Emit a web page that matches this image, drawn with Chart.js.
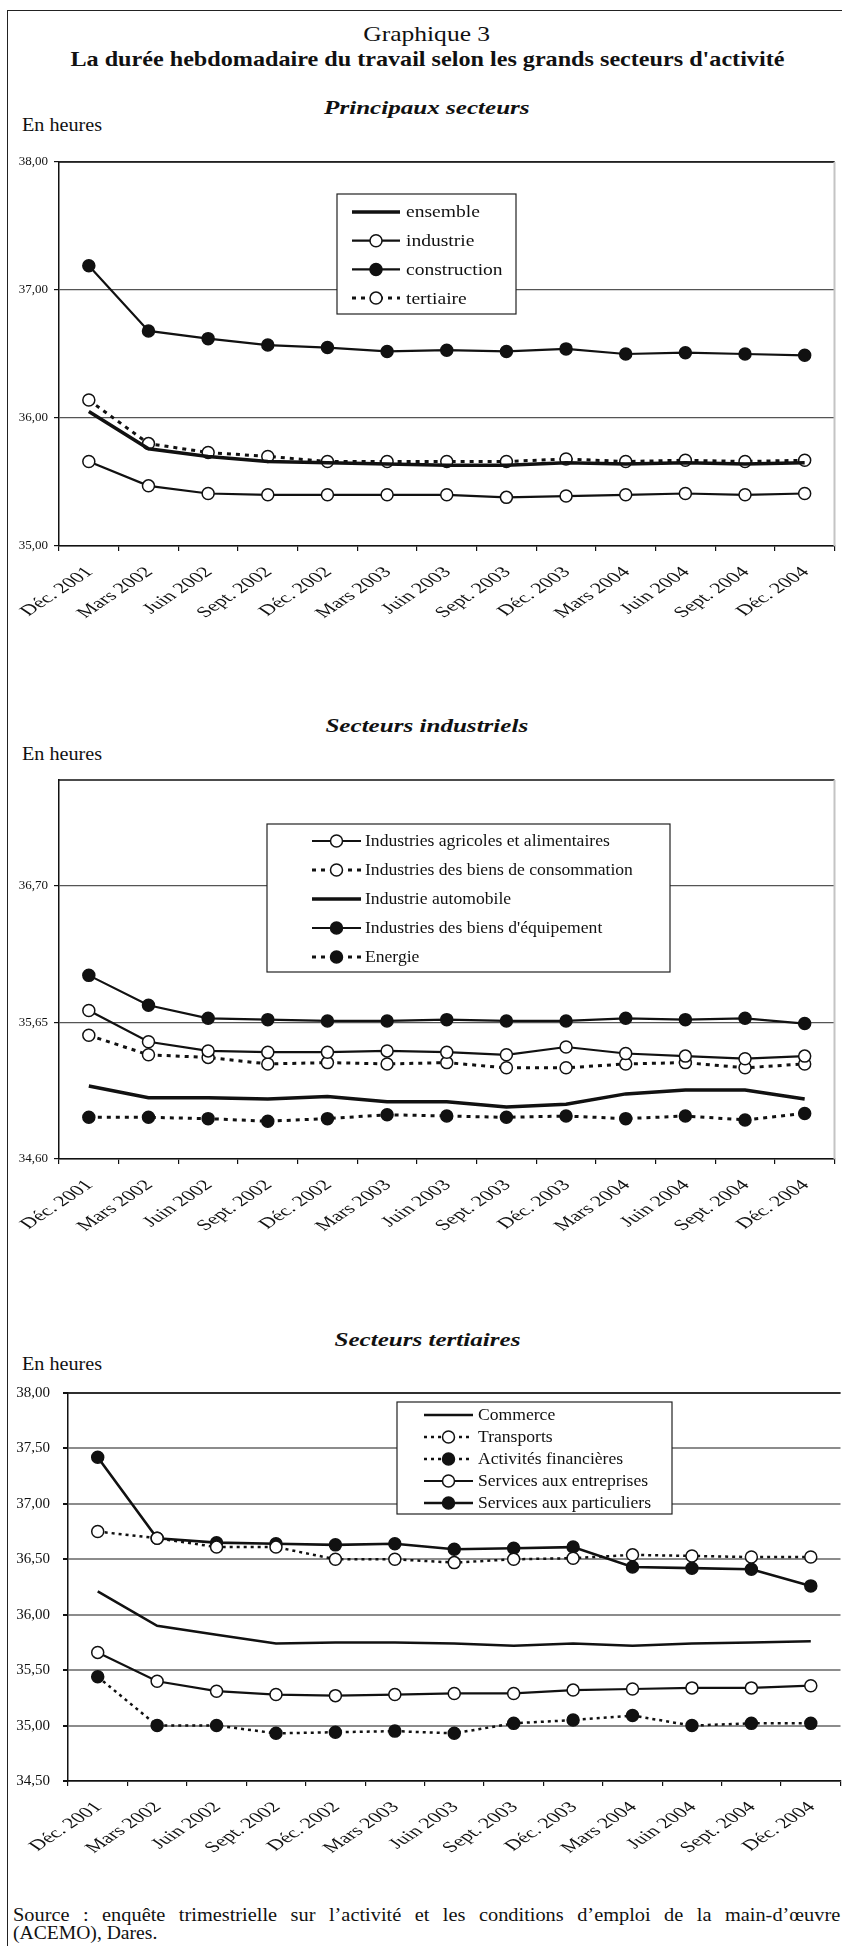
<!DOCTYPE html>
<html lang="fr">
<head>
<meta charset="utf-8">
<title>Graphique 3</title>
<script src="https://cdn.jsdelivr.net/npm/chart.js@4.4.1/dist/chart.umd.min.js"></script>
<style>
  html, body { margin: 0; padding: 0; background: #fff; }
  body {
    width: 842px; height: 1946px; position: relative; overflow: hidden;
    font-family: "Liberation Serif", "Times New Roman", serif; color: #111;
  }
  .frame { position: absolute; left: 7px; top: 10px; width: 850px; height: 1950px;
    border-left: 1.5px solid #222; border-top: 1.5px solid #222; }
  .txt { position: absolute; white-space: nowrap; line-height: 1; }
  .c { left: 0; width: 854px; text-align: center; }
  .txt span { display: inline-block; }
  .left span { transform-origin: left center; }
  .source { position: absolute; left: 13px; width: 752px; font-size: 18.5px; line-height: 18px;
    text-align: justify; text-align-last: justify; white-space: nowrap;
    transform: scaleX(1.1); transform-origin: left center; }
  canvas { position: absolute; left: 0; }
</style>
</head>
<body>
<div class="frame"></div>

<div class="txt c" style="top:23px;font-size:22px"><span style="transform:scaleX(1.16)">Graphique 3</span></div>
<div class="txt c" style="top:49px;font-size:21px;font-weight:bold"><span style="transform:scaleX(1.15)">La durée hebdomadaire du travail selon les grands secteurs d'activité</span></div>

<div class="txt c" style="top:98px;font-size:19px;font-weight:bold;font-style:italic"><span style="transform:scaleX(1.32)">Principaux secteurs</span></div>
<div class="txt left" style="left:22px;top:116px;font-size:18px"><span style="transform:scaleX(1.12)">En heures</span></div>
<canvas id="chartPrincipaux" width="842" height="520" style="top:140px"></canvas>

<div class="txt c" style="top:716px;font-size:19px;font-weight:bold;font-style:italic"><span style="transform:scaleX(1.32)">Secteurs industriels</span></div>
<div class="txt left" style="left:22px;top:745px;font-size:18px"><span style="transform:scaleX(1.12)">En heures</span></div>
<canvas id="chartIndustriels" width="842" height="515" style="top:765px"></canvas>

<div class="txt c" style="top:1330px;font-size:19px;font-weight:bold;font-style:italic"><span style="transform:scaleX(1.32)">Secteurs tertiaires</span></div>
<div class="txt left" style="left:22px;top:1355px;font-size:18px"><span style="transform:scaleX(1.12)">En heures</span></div>
<canvas id="chartTertiaires" width="848" height="520" style="top:1380px"></canvas>

<div class="source" style="top:1906px">Source : enquête trimestrielle sur l’activité et les conditions d’emploi de la main-d’œuvre</div>
<div class="txt left" style="left:13px;top:1924px;font-size:18.5px"><span style="transform:scaleX(1.06)">(ACEMO), Dares.</span></div>

<script>
// Trimestres
const periodes = ["Déc. 2001", "Mars 2002", "Juin 2002", "Sept. 2002", "Déc. 2002", "Mars 2003",
  "Juin 2003", "Sept. 2003", "Déc. 2003", "Mars 2004", "Juin 2004", "Sept. 2004", "Déc. 2004"];

// Principaux secteurs
const ensemble     = [36.05, 35.76, 35.70, 35.66, 35.65, 35.64, 35.63, 35.63, 35.65, 35.64, 35.65, 35.64, 35.65];
const industrie    = [35.66, 35.47, 35.41, 35.40, 35.40, 35.40, 35.40, 35.38, 35.39, 35.40, 35.41, 35.40, 35.41];
const construction = [37.19, 36.68, 36.62, 36.57, 36.55, 36.52, 36.53, 36.52, 36.54, 36.50, 36.51, 36.50, 36.49];
const tertiaire    = [36.14, 35.80, 35.73, 35.70, 35.66, 35.66, 35.66, 35.66, 35.68, 35.66, 35.67, 35.66, 35.67];
const ticksPrincipaux = [35, 36, 37, 38];

// Secteurs industriels
const agroAlimentaire = [35.74, 35.50, 35.43, 35.42, 35.42, 35.43, 35.42, 35.40, 35.46, 35.41, 35.39, 35.37, 35.39];
const biensConso      = [35.55, 35.40, 35.38, 35.33, 35.34, 35.33, 35.34, 35.30, 35.30, 35.33, 35.34, 35.30, 35.33];
const automobile      = [35.16, 35.07, 35.07, 35.06, 35.08, 35.04, 35.04, 35.00, 35.02, 35.10, 35.13, 35.13, 35.06];
const biensEquipement = [36.01, 35.78, 35.68, 35.67, 35.66, 35.66, 35.67, 35.66, 35.66, 35.68, 35.67, 35.68, 35.64];
const energie         = [34.92, 34.92, 34.91, 34.89, 34.91, 34.94, 34.93, 34.92, 34.93, 34.91, 34.93, 34.90, 34.95];
const ticksIndustriels = [34.60, 35.65, 36.70];

// Secteurs tertiaires
const commerce         = [36.21, 35.90, 35.82, 35.74, 35.75, 35.75, 35.74, 35.72, 35.74, 35.72, 35.74, 35.75, 35.76];
const transports       = [36.75, 36.69, 36.61, 36.61, 36.50, 36.50, 36.47, 36.50, 36.51, 36.54, 36.53, 36.52, 36.52];
const financieres      = [35.44, 35.00, 35.00, 34.93, 34.94, 34.95, 34.93, 35.02, 35.05, 35.09, 35.00, 35.02, 35.02];
const servEntreprises  = [35.66, 35.40, 35.31, 35.28, 35.27, 35.28, 35.29, 35.29, 35.32, 35.33, 35.34, 35.34, 35.36];
const servParticuliers = [37.42, 36.69, 36.65, 36.64, 36.63, 36.64, 36.59, 36.60, 36.61, 36.43, 36.42, 36.41, 36.26];
const ticksTertiaires = [34.5, 35, 35.5, 36, 36.5, 37, 37.5, 38];

const FONT = '"Liberation Serif", "Times New Roman", serif';
const INK = "#111";

function virgule(v) {
  return Number(v).toFixed(2).replace(".", ",");
}

// top line of the plot (and light right edge) like the Excel frame
const plotFrame = {
  id: "plotFrame",
  beforeDatasetsDraw(chart, args, opts) {
    const a = chart.chartArea;
    const ctx = chart.ctx;
    ctx.save();
    ctx.strokeStyle = INK;
    ctx.lineWidth = 1.5;
    ctx.beginPath();
    ctx.moveTo(a.left, a.top);
    ctx.lineTo(a.right, a.top);
    ctx.stroke();
    if (opts.rightLine) {
      ctx.strokeStyle = "#c4c4c4";
      ctx.lineWidth = 2;
      ctx.beginPath();
      ctx.moveTo(a.right, a.top);
      ctx.lineTo(a.right, a.bottom);
      ctx.stroke();
    }
    ctx.restore();
  }
};

// category labels, slanted and stretched like the source
const slantedLabels = {
  id: "slantedLabels",
  afterDraw(chart, args, opts) {
    const xScale = chart.scales.x;
    const ctx = chart.ctx;
    ctx.save();
    ctx.font = opts.size + "px " + FONT;
    ctx.fillStyle = INK;
    ctx.textAlign = "right";
    ctx.textBaseline = "middle";
    chart.data.labels.forEach(function (label, i) {
      ctx.save();
      ctx.translate(xScale.getPixelForValue(i) + opts.dx, chart.chartArea.bottom + opts.dy);
      ctx.scale(opts.stretch, 1);
      ctx.rotate(-Math.PI / 4);
      ctx.fillText(label, 0, 0);
      ctx.restore();
    });
    ctx.restore();
  }
};

// boxed legend sitting inside the plot
const boxLegend = {
  id: "boxLegend",
  afterDraw(chart, args, o) {
    const ctx = chart.ctx;
    ctx.save();
    ctx.fillStyle = "#fff";
    ctx.fillRect(o.x, o.y, o.w, o.h);
    ctx.strokeStyle = "#222";
    ctx.lineWidth = 1.2;
    ctx.strokeRect(o.x, o.y, o.w, o.h);
    chart.data.datasets.forEach(function (ds, i) {
      const y = o.firstRow + i * o.rowGap;
      ctx.save();
      ctx.strokeStyle = ds.borderColor;
      ctx.lineWidth = ds.borderWidth;
      ctx.setLineDash(ds.borderDash || []);
      ctx.beginPath();
      ctx.moveTo(o.sampleX, y);
      ctx.lineTo(o.sampleX + o.sampleW, y);
      ctx.stroke();
      ctx.setLineDash([]);
      if (ds.pointRadius > 0) {
        ctx.beginPath();
        ctx.arc(o.sampleX + o.sampleW / 2, y, ds.pointRadius, 0, 2 * Math.PI);
        ctx.fillStyle = ds.pointBackgroundColor;
        ctx.fill();
        ctx.lineWidth = ds.pointBorderWidth;
        ctx.strokeStyle = ds.pointBorderColor;
        ctx.stroke();
      }
      ctx.translate(o.textX, y);
      ctx.scale(o.stretch, 1);
      ctx.font = o.size + "px " + FONT;
      ctx.fillStyle = INK;
      ctx.textAlign = "left";
      ctx.textBaseline = "middle";
      ctx.fillText(ds.label, 0, 1);
      ctx.restore();
    });
    ctx.restore();
  }
};

const OPEN = { pointRadius: 6, pointBackgroundColor: "#fff" };
const FULL = { pointRadius: 6, pointBackgroundColor: INK };
const THICK = { borderWidth: 3.5 };
const DOTTED = { borderWidth: 3, borderDash: [4, 5] };

function serie(label, data, style) {
  return Object.assign({
    label: label,
    data: data,
    borderColor: INK,
    borderWidth: 2.2,
    borderDash: [],
    borderCapStyle: "butt",
    pointRadius: 0,
    pointBorderColor: INK,
    pointBorderWidth: 1.5,
    pointBackgroundColor: INK,
    tension: 0
  }, style || {});
}

function makeChart(canvasId, datasets, axis, box, legend) {
  return new Chart(document.getElementById(canvasId), {
    type: "line",
    data: { labels: periodes, datasets: datasets },
    plugins: [plotFrame, slantedLabels, boxLegend],
    options: {
      responsive: false,
      animation: false,
      events: [],
      layout: { padding: { top: box.top, right: box.right, left: 0, bottom: 0 } },
      plugins: {
        legend: { display: false },
        tooltip: { enabled: false },
        plotFrame: { rightLine: box.rightLine },
        slantedLabels: { size: 15, stretch: 1.5, dx: 1, dy: 24 },
        boxLegend: legend
      },
      scales: {
        x: {
          type: "category",
          offset: true,
          grid: { offset: true, drawOnChartArea: false, drawTicks: true, tickLength: 5, color: INK, lineWidth: 1.2 },
          border: { display: true, color: INK, width: 1.5 },
          ticks: { display: false },
          afterFit: function (scale) { scale.height = box.xHeight; }
        },
        y: {
          min: axis.min,
          max: axis.max,
          afterBuildTicks: function (scale) {
            scale.ticks = axis.ticks.map(function (v) { return { value: v }; });
          },
          ticks: {
            font: { family: FONT, size: axis.font },
            color: INK,
            padding: axis.pad,
            callback: function (value) { return virgule(value); }
          },
          grid: { color: axis.gridColor, lineWidth: axis.gridWidth, tickColor: INK, tickLength: 5 },
          border: { display: true, color: INK, width: 1.5 },
          afterFit: function (scale) {
            scale.width = box.yWidth;
            scale.paddingTop = 6;
            scale.paddingBottom = 6;
          }
        }
      }
    }
  });
}

makeChart("chartPrincipaux", [
  serie("ensemble", ensemble, THICK),
  serie("industrie", industrie, OPEN),
  serie("construction", construction, FULL),
  serie("tertiaire", tertiaire, Object.assign({}, DOTTED, OPEN))
], { min: 35, max: 38, ticks: ticksPrincipaux, font: 13, pad: 6, gridColor: "#555", gridWidth: 1.2 },
{ top: 22, right: 5, yWidth: 59, xHeight: 114, rightLine: true },
{ x: 337, y: 54, w: 179, h: 120, firstRow: 72, rowGap: 28.7, sampleX: 352, sampleW: 48, textX: 406, size: 17, stretch: 1.15 });

makeChart("chartIndustriels", [
  serie("Industries agricoles et alimentaires", agroAlimentaire, OPEN),
  serie("Industries des biens de consommation", biensConso, Object.assign({}, DOTTED, OPEN)),
  serie("Industrie automobile", automobile, THICK),
  serie("Industries des biens d'équipement", biensEquipement, FULL),
  serie("Energie", energie, Object.assign({}, DOTTED, FULL))
], { min: 34.6, max: 37.51, ticks: ticksIndustriels, font: 13, pad: 6, gridColor: "#555", gridWidth: 1.2 },
{ top: 15, right: 5, yWidth: 59, xHeight: 121, rightLine: true },
{ x: 267, y: 59, w: 403, h: 148, firstRow: 76, rowGap: 29, sampleX: 312, sampleW: 49, textX: 365, size: 16, stretch: 1.1 });

makeChart("chartTertiaires", [
  serie("Commerce", commerce, { borderWidth: 2.5 }),
  serie("Transports", transports, Object.assign({ borderWidth: 2.5, borderDash: [3, 4] }, OPEN)),
  serie("Activités financières", financieres, Object.assign({ borderWidth: 2.5, borderDash: [3, 4] }, FULL)),
  serie("Services aux entreprises", servEntreprises, OPEN),
  serie("Services aux particuliers", servParticuliers, Object.assign({ borderWidth: 2.6 }, FULL))
], { min: 34.5, max: 38, ticks: ticksTertiaires, font: 15, pad: 13, gridColor: "#8c8c8c", gridWidth: 2 },
{ top: 13, right: 3, yWidth: 68, xHeight: 119, rightLine: false },
{ x: 397, y: 22, w: 275, h: 112, firstRow: 35, rowGap: 22, sampleX: 424, sampleW: 49, textX: 478, size: 16, stretch: 1.1 });
</script>
</body>
</html>
